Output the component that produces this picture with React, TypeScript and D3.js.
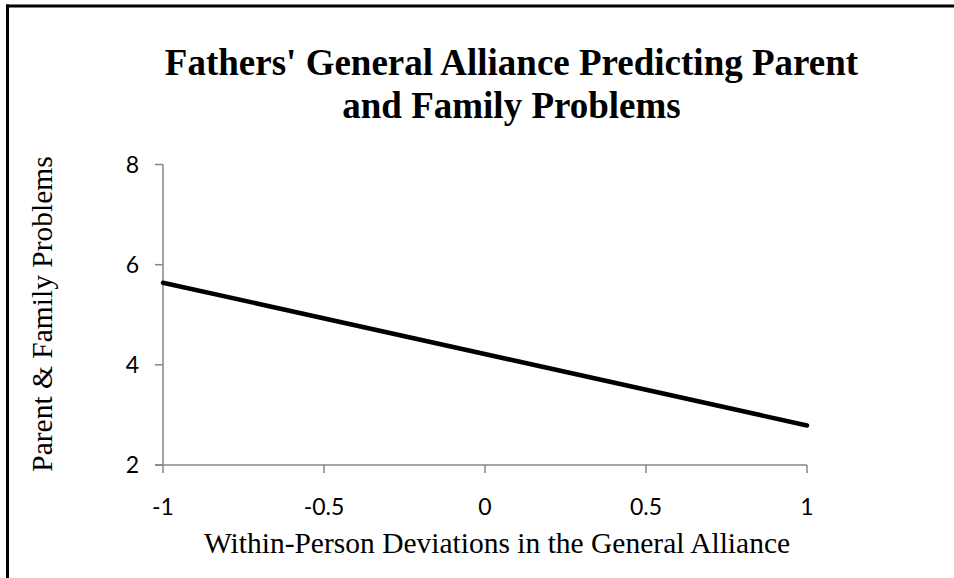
import React from "react";
import * as d3 from "d3";

const W = 954;
const H = 578;

const xTicks = [-1, -0.5, 0, 0.5, 1];
const yTicks = [2, 4, 6, 8];
const lineX = [-1, 1];
const lineY = [5.64, 2.79];

const titleLines = ["Fathers' General Alliance Predicting Parent", "and Family Problems"];
const xTitle = "Within-Person Deviations in the General Alliance";
const yTitle = "Parent & Family Problems";

const serif = "'Liberation Serif', 'Times New Roman', serif";
const sans = "Lato, 'Open Sans', sans-serif";

export default function App() {
  const x = d3.scaleLinear().domain([-1, 1]).range([163, 807]);
  const y = d3.scaleLinear().domain([2, 8]).range([465, 164.5]);
  const pts: [number, number][] = lineX.map((v, i) => [v, lineY[i]]);
  const path = d3
    .line<[number, number]>()
    .x((d) => x(d[0]))
    .y((d) => y(d[1]))(pts) as string;
  const axisColor = "#868686";

  return (
    <svg
      width={W}
      height={H}
      style={{ position: "absolute", left: 0, top: 0, background: "#fff", display: "block" }}
    >
      <rect x={0} y={0} width={W} height={H} fill="#fff" />
      {/* frame: top and left edges */}
      <line x1={6} y1={6} x2={W} y2={6} stroke="#000" strokeWidth={3} />
      <line x1={7.5} y1={4.5} x2={7.5} y2={H} stroke="#000" strokeWidth={3} />

      {/* title */}
      <text
        textAnchor="middle"
        fontFamily={serif}
        fontWeight="bold"
        fontSize={37}
        fill="#000"
      >
        <tspan x={511.5} y={75}>{titleLines[0]}</tspan>
        <tspan x={511.5} y={118}>{titleLines[1]}</tspan>
      </text>

      {/* y axis */}
      <line x1={x(-1)} y1={y(8)} x2={x(-1)} y2={y(2)} stroke={axisColor} strokeWidth={1.5} />
      {yTicks.map((t) => (
        <g key={"y" + t}>
          <line x1={x(-1) - 8} x2={x(-1)} y1={y(t)} y2={y(t)} stroke={axisColor} strokeWidth={1.5} />
          <text
            x={x(-1) - 24}
            y={y(t)}
            dy="0.36em"
            textAnchor="end"
            fontFamily={sans}
            fontSize={23}
            fill="#000"
          >
            {t}
          </text>
        </g>
      ))}

      {/* x axis */}
      <line x1={x(-1) - 8} y1={y(2)} x2={x(1)} y2={y(2)} stroke={axisColor} strokeWidth={1.5} />
      {xTicks.map((t) => (
        <g key={"x" + t}>
          <line x1={x(t)} x2={x(t)} y1={y(2)} y2={y(2) + 8} stroke={axisColor} strokeWidth={1.5} />
          <text
            x={x(t)}
            y={y(2) + 50}
            textAnchor="middle"
            fontFamily={sans}
            fontSize={23}
            fill="#000"
          >
            {t}
          </text>
        </g>
      ))}

      {/* axis titles */}
      <text x={497} y={553} textAnchor="middle" fontFamily={serif} fontSize={29.5} fill="#000">
        {xTitle}
      </text>
      <text
        transform={`translate(52, 314) rotate(-90)`}
        textAnchor="middle"
        fontFamily={serif}
        fontSize={29.5}
        fill="#000"
      >
        {yTitle}
      </text>

      {/* regression line */}
      <path d={path} fill="none" stroke="#000" strokeWidth={4.5} strokeLinecap="round" />
    </svg>
  );
}
